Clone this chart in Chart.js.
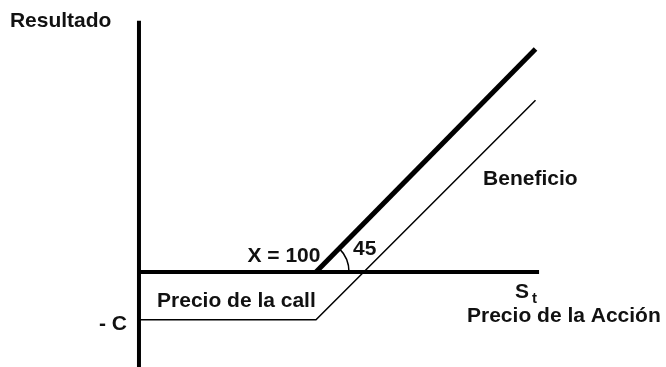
<!DOCTYPE html>
<html lang="es">
<head>
    <meta charset="UTF-8">
    <title>Resultado de una call</title>
    <script src="https://cdn.jsdelivr.net/npm/chart.js"></script>
    <style>
        body { margin: 0; background: #fff; }
        #wrap { width: 666px; height: 367px; position: relative; }
    </style>
</head>
<body>
    <div id="wrap"><canvas id="payoffChart"></canvas></div>

    <script>
        // Precio del subyacente (S_t) y resultados
        const strike = 100;
        const premium = 27;
        const stockPrices = [0, 100, 224];
        const intrinsicValue = [null, 0, 126];      // valor de la call a vencimiento
        const profit = [-27, -27, 97];              // beneficio neto = valor - C
        const axisX = [0, 226];
        const axisY = [142, -60];

        const toPoints = (xs, ys) => xs.map((x, i) => ({ x: x, y: ys[i] })).filter(p => p.y !== null);

        // Text labels drawn on top, placed in data units
        const labels = [
            { text: 'Resultado', x: -72.9, y: 138.4 },
            { text: 'X = 100', x: 102.5, y: 5.6, align: 'right' },
            { text: '45', x: 120.9, y: 9.6 },
            { text: 'Beneficio', x: 194.4, y: 49.2 },
            { text: 'Precio de la call', x: 10.2, y: -19.8 },
            { text: '- C', x: -6.8, y: -32.8, align: 'right' },
            { text: 'S', x: 212.4, y: -14.7 },
            { text: 't', x: 222, y: -17.5, size: 15 },
            { text: 'Precio de la Acción', x: 185.3, y: -28.2 }
        ];

        const textPlugin = {
            id: 'textLabels',
            afterDatasetsDraw(chart) {
                const ctx = chart.ctx;
                const xs = chart.scales.x, ys = chart.scales.y;
                ctx.save();
                // angle arc at the strike
                ctx.beginPath();
                ctx.lineWidth = 1.5;
                ctx.strokeStyle = '#000';
                ctx.arc(xs.getPixelForValue(strike), ys.getPixelForValue(0), 33, -Math.PI / 4, 0);
                ctx.stroke();

                ctx.fillStyle = '#111';
                ctx.textBaseline = 'alphabetic';
                labels.forEach(l => {
                    ctx.font = 'bold ' + (l.size || 21) + 'px "Liberation Sans", Arial, sans-serif';
                    ctx.textAlign = l.align || 'left';
                    ctx.fillText(l.text, xs.getPixelForValue(l.x), ys.getPixelForValue(l.y));
                });
                ctx.restore();
            }
        };

        new Chart(document.getElementById('payoffChart'), {
            type: 'scatter',
            data: {
                datasets: [
                    {
                        label: 'Eje resultado',
                        data: toPoints([0, 0], axisY),
                        borderColor: '#000',
                        borderWidth: 4,
                        showLine: true,
                        pointRadius: 0
                    },
                    {
                        label: 'Eje precio',
                        data: toPoints(axisX, [0, 0]),
                        borderColor: '#000',
                        borderWidth: 4,
                        showLine: true,
                        pointRadius: 0
                    },
                    {
                        label: 'Valor de la call',
                        data: toPoints(stockPrices, intrinsicValue),
                        borderColor: '#000',
                        borderWidth: 5,
                        showLine: true,
                        pointRadius: 0
                    },
                    {
                        label: 'Beneficio',
                        data: toPoints(stockPrices, profit),
                        borderColor: '#000',
                        borderWidth: 1.5,
                        showLine: true,
                        pointRadius: 0
                    }
                ]
            },
            options: {
                responsive: true,
                maintainAspectRatio: false,
                animation: false,
                devicePixelRatio: 1,
                layout: { padding: 0 },
                plugins: {
                    legend: { display: false },
                    tooltip: { enabled: false }
                },
                scales: {
                    x: { type: 'linear', min: -78.5, max: 297.7, display: false },
                    y: { type: 'linear', min: -53.7, max: 153.7, display: false }
                }
            },
            plugins: [textPlugin]
        });
    </script>
</body>
</html>
